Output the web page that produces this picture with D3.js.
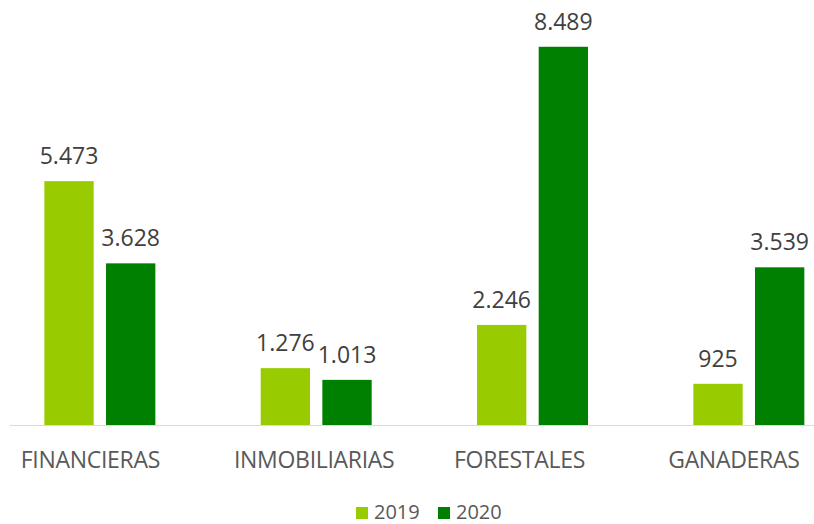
<!DOCTYPE html>
<html>
<head>
<meta charset="utf-8">
<script src="https://cdn.jsdelivr.net/npm/d3@7/dist/d3.min.js"></script>
<style>
  html, body { margin: 0; padding: 0; background: #ffffff; }
  svg { display: block; }
  text { font-family: "Open Sans", "Liberation Sans", sans-serif; fill: #595959; }
  text.val { fill: #404040; }
</style>
</head>
<body>
<svg id="chart" width="814" height="524"></svg>
<script>
// Categories and yearly values
const categories = ["FINANCIERAS", "INMOBILIARIAS", "FORESTALES", "GANADERAS"];
const years = ["2019", "2020"];
const values2019 = [5473, 1276, 2246, 925];
const values2020 = [3628, 1013, 8489, 3539];
const colors = { "2019": "#99cc00", "2020": "#008000" };

const series = { "2019": values2019, "2020": values2020 };
const rows = categories.map((c, i) => ({
  category: c,
  bars: years.map(y => ({ year: y, value: series[y][i] }))
}));

const svg = d3.select("#chart");
const width = 814, height = 524;
const baseline = 425;

const x0 = d3.scaleBand().domain(categories).range([-8.3, 857]).padding(0);
const groupWidth = 111;
const x1 = d3.scaleBand().domain(years).range([0, groupWidth]).paddingInner(0.2);
const y = d3.scaleLinear().domain([0, 9000]).range([baseline, 24]);

const fmt = d3.formatLocale({ decimal: ",", thousands: ".", grouping: [3], currency: ["", ""] }).format(",d");

// Category axis line
svg.append("line")
  .attr("x1", 10).attr("x2", width)
  .attr("y1", baseline + 0.5).attr("y2", baseline + 0.5)
  .attr("stroke", "#d9d9d9").attr("stroke-width", 1.2);

const groups = svg.selectAll("g.group").data(rows).join("g")
  .attr("class", "group")
  .attr("transform", d => `translate(${x0(d.category) + (x0.bandwidth() - groupWidth) / 2},0)`);

groups.selectAll("rect").data(d => d.bars).join("rect")
  .attr("x", d => x1(d.year))
  .attr("width", x1.bandwidth())
  .attr("y", d => y(d.value))
  .attr("height", d => baseline - y(d.value))
  .attr("fill", d => colors[d.year]);

groups.selectAll("text.val").data(d => d.bars).join("text")
  .attr("class", "val")
  .attr("x", d => x1(d.year) + x1.bandwidth() / 2)
  .attr("y", d => y(d.value) - 17)
  .attr("text-anchor", "middle")
  .attr("font-size", 23)
  .text(d => fmt(d.value));

// Category labels (nudged left the way the axis lays them out, kept inside the frame)
const labelNudge = [-9.5, -2, -13, -15];
svg.selectAll("text.cat").data(categories).join("text")
  .attr("class", "cat")
  .attr("x", (d, i) => x0(d) + x0.bandwidth() / 2 + labelNudge[i])
  .attr("y", 468)
  .attr("text-anchor", "middle")
  .attr("font-size", 23)
  .attr("letter-spacing", -0.3)
  .text(d => d);

// Legend
const legend = svg.append("g");
const legendX = { "2019": 356, "2020": 438 };
years.forEach(yr => {
  legend.append("rect")
    .attr("x", legendX[yr]).attr("y", 507)
    .attr("width", 12).attr("height", 12)
    .attr("fill", colors[yr]);
  legend.append("text")
    .attr("x", legendX[yr] + 18).attr("y", 519)
    .attr("font-size", 20)
    .text(yr);
});
</script>
</body>
</html>
